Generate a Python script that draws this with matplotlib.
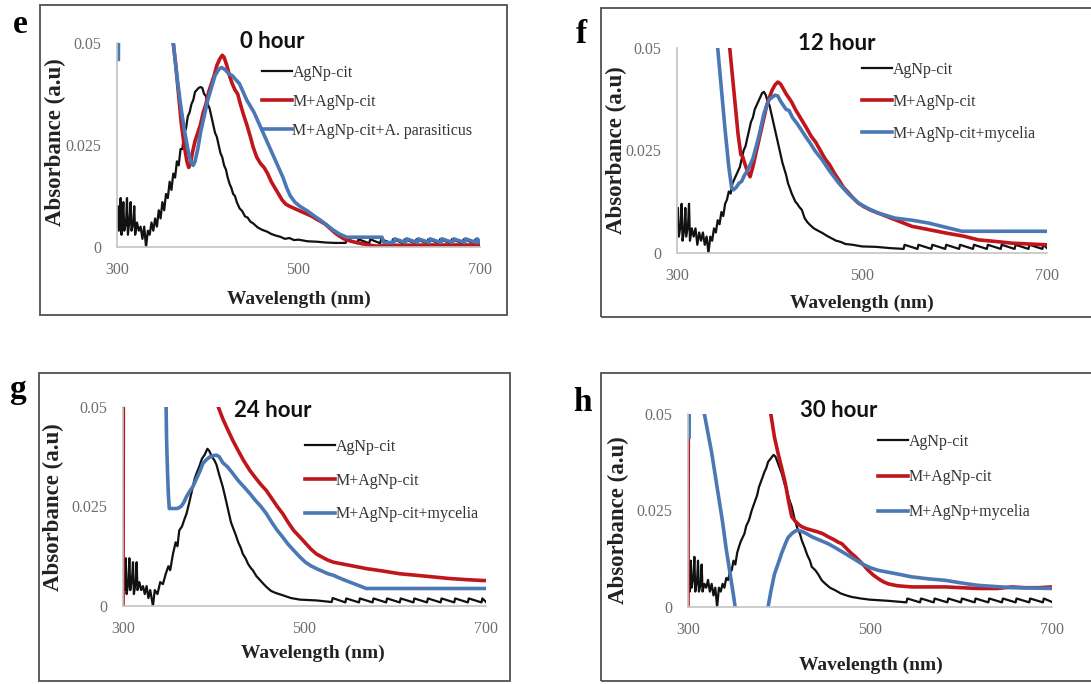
import matplotlib
matplotlib.use("Agg")
import matplotlib.pyplot as plt
from matplotlib.patches import Rectangle

# ---------------- data: UV-vis absorbance spectra ----------------
# panel e, 0 hour
e_cit_wl = [300, 301, 302, 303, 304, 305, 306, 307, 308, 310, 311, 312, 314, 315, 316, 318, 319, 320,
            322, 324, 326, 328, 330, 332, 334, 336, 338, 340, 342, 344, 346, 348, 350, 352, 354, 356,
            358, 360, 362, 364, 366, 368, 370, 372, 374, 376, 378, 380, 382, 384, 386, 388, 390, 392,
            394, 396, 398, 400, 402, 404, 406, 408, 410, 412, 414, 416, 418, 420, 422, 424, 426, 428,
            430, 432, 435, 438, 441, 444, 447, 450, 455, 460, 465, 470, 475, 480, 485, 490, 495, 500,
            510, 520, 530, 540, 552, 553, 565, 566, 578, 579, 590, 591, 603, 604, 616, 617, 629, 630,
            642, 643, 655, 656, 668, 669, 681, 682, 694, 695, 700]
e_cit_abs = [0.005, 0.010, 0.004, 0.006, 0.012, 0.003, 0.007, 0.011, 0.004, 0.006, 0.012, 0.003, 0.007,
             0.011, 0.004, 0.006, 0.010, 0.003, 0.006, 0.004, 0.005, 0.002, 0.005, 0.0, 0.004, 0.003,
             0.006, 0.004, 0.007, 0.005, 0.009, 0.007, 0.011, 0.009, 0.013, 0.012, 0.016, 0.014, 0.018,
             0.017, 0.021, 0.020, 0.024, 0.024, 0.028, 0.029, 0.032, 0.033, 0.035, 0.036, 0.038, 0.0385,
             0.039, 0.0392, 0.039, 0.0375, 0.037, 0.035, 0.034, 0.032, 0.030, 0.028, 0.027, 0.025, 0.023,
             0.022, 0.020, 0.019, 0.017, 0.0155, 0.0145, 0.013, 0.0125, 0.011, 0.0095, 0.0088, 0.0075,
             0.0072, 0.0062, 0.0058, 0.0048, 0.0042, 0.0038, 0.0032, 0.0028, 0.0025, 0.0020, 0.0022,
             0.0017, 0.0018, 0.0014, 0.0013, 0.0011, 0.0010, 0.0010, 0.0020, 0.0009, 0.0019, 0.0009,
             0.0019, 0.0009, 0.0019, 0.0009, 0.0019, 0.0009, 0.0019, 0.0009, 0.0019, 0.0009, 0.0019,
             0.0009, 0.0019, 0.0009, 0.0019, 0.0009, 0.0019, 0.0009, 0.0019, 0.0010]
e_m_wl = [355, 362, 365, 368, 371, 374, 377, 379, 381, 383, 386, 389, 392, 395, 398, 401, 404, 407, 410,
          413, 416, 418, 421, 424, 427, 430, 433, 436, 440, 443, 447, 450, 454, 458, 462, 466, 470, 474,
          478, 482, 486, 490, 495, 500, 505, 510, 515, 520, 525, 530, 535, 540, 545, 550, 555, 560, 570,
          580, 586, 600, 650, 700]
e_m_abs = [0.060, 0.050, 0.044, 0.037, 0.030, 0.025, 0.021, 0.0195, 0.0205, 0.023, 0.026, 0.028, 0.030,
           0.033, 0.035, 0.038, 0.040, 0.042, 0.0445, 0.046, 0.047, 0.0465, 0.0445, 0.042, 0.040, 0.0385,
           0.0375, 0.035, 0.032, 0.030, 0.027, 0.0245, 0.022, 0.0205, 0.0195, 0.018, 0.016, 0.0145, 0.013,
           0.0115, 0.0105, 0.0100, 0.0095, 0.0090, 0.0085, 0.0080, 0.0075, 0.0068, 0.0062, 0.0055, 0.0045,
           0.0035, 0.0027, 0.0020, 0.0016, 0.0013, 0.0008, 0.0004, 0.0002, 0.0004, 0.0005, 0.0005]
e_fun_wl = [301.5, 302.5, 340, 355, 362, 366, 370, 374, 378, 381, 384, 386, 389, 392, 396, 400, 404, 408,
            412, 415, 419, 423, 427, 431, 435, 439, 443, 447, 451, 455, 459, 463, 467, 471, 475, 479, 483,
            487, 491, 496, 502, 510, 518, 524, 530, 538, 545, 553, 592, 594, 605, 606, 618, 619, 631, 632,
            644, 645, 657, 658, 670, 671, 683, 684, 696, 697, 700]
e_fun_abs = [0.046, 0.080, 0.090, 0.065, 0.050, 0.042, 0.035, 0.029, 0.024, 0.021, 0.020, 0.021, 0.024,
             0.028, 0.032, 0.036, 0.039, 0.042, 0.0435, 0.044, 0.0435, 0.0425, 0.042, 0.041, 0.040, 0.038,
             0.036, 0.0345, 0.033, 0.031, 0.029, 0.027, 0.025, 0.023, 0.021, 0.019, 0.017, 0.0145, 0.0125,
             0.011, 0.0099, 0.0088, 0.0075, 0.0066, 0.0056, 0.0042, 0.0032, 0.0024, 0.0024, 0.0011, 0.0011,
             0.0020, 0.0011, 0.0020, 0.0011, 0.0020, 0.0011, 0.0020, 0.0011, 0.0020, 0.0011, 0.0020, 0.0011,
             0.0020, 0.0011, 0.0020, 0.0012]

# panel f, 12 hour
f_cit_wl = [300, 301, 302, 304, 305, 306, 308, 309, 310, 312, 313, 314, 316, 318, 320, 322, 324, 326, 328,
            330, 332, 334, 336, 338, 340, 342, 344, 346, 348, 350, 352, 354, 356, 358, 360, 362, 364, 366,
            368, 370, 372, 374, 376, 378, 380, 382, 384, 386, 388, 390, 392, 394, 396, 398, 400, 402, 404,
            406, 408, 410, 412, 414, 416, 418, 420, 422, 424, 426, 428, 430, 432, 435, 438, 441, 444, 448,
            452, 457, 462, 467, 472, 477, 482, 490, 500, 515, 530, 545, 546, 560, 561, 575, 576, 590, 591,
            605, 606, 620, 621, 635, 636, 650, 651, 665, 666, 680, 681, 695, 696, 700]
f_cit_abs = [0.006, 0.011, 0.004, 0.007, 0.012, 0.003, 0.006, 0.011, 0.004, 0.007, 0.012, 0.003, 0.006,
             0.004, 0.006, 0.002, 0.005, 0.003, 0.005, 0.002, 0.004, 0.0, 0.004, 0.003, 0.006, 0.005, 0.008,
             0.007, 0.010, 0.009, 0.012, 0.013, 0.015, 0.0145, 0.017, 0.018, 0.019, 0.020, 0.021, 0.023,
             0.025, 0.026, 0.028, 0.030, 0.032, 0.033, 0.035, 0.036, 0.037, 0.038, 0.039, 0.0393, 0.0385,
             0.037, 0.036, 0.034, 0.032, 0.030, 0.028, 0.026, 0.024, 0.022, 0.0205, 0.019, 0.017, 0.0158,
             0.0145, 0.0135, 0.0125, 0.012, 0.0113, 0.0105, 0.0085, 0.0075, 0.0068, 0.006, 0.0055, 0.0049,
             0.0042, 0.0036, 0.0030, 0.0027, 0.0022, 0.0020, 0.0016, 0.0015, 0.0012, 0.0010, 0.0020, 0.0010,
             0.0020, 0.0010, 0.0020, 0.0010, 0.0020, 0.0010, 0.0020, 0.0010, 0.0020, 0.0010, 0.0020, 0.0010,
             0.0020, 0.0010, 0.0020, 0.0010, 0.0020, 0.0010, 0.0020, 0.0012]
f_m_wl = [350, 357, 360, 363, 366, 369, 371, 373, 376, 379, 382, 385, 388, 391, 394, 397, 400, 403, 406,
          409, 412, 415, 418, 421, 424, 428, 432, 436, 440, 445, 450, 455, 460, 465, 470, 475, 480, 485,
          490, 496, 502, 510, 518, 527, 536, 545, 554, 570, 590, 610, 626, 645, 662, 680, 700]
f_m_abs = [0.065, 0.050, 0.043, 0.036, 0.029, 0.024, 0.0235, 0.022, 0.020, 0.0186, 0.021, 0.024, 0.027,
           0.030, 0.033, 0.036, 0.038, 0.0398, 0.041, 0.0417, 0.0412, 0.040, 0.0388, 0.0378, 0.0368, 0.035,
           0.0335, 0.032, 0.0305, 0.0285, 0.027, 0.025, 0.023, 0.0215, 0.0195, 0.0178, 0.016, 0.0148,
           0.0135, 0.0122, 0.0113, 0.0104, 0.0097, 0.0089, 0.0081, 0.0073, 0.0065, 0.0058, 0.0049, 0.0041,
           0.0032, 0.0028, 0.0024, 0.0022, 0.0020]
f_fun_wl = [340, 344, 348, 352, 356, 359, 361, 364, 367, 370, 373, 376, 379, 382, 385, 388, 391, 394, 397,
            400, 403, 406, 409, 412, 415, 418, 421, 425, 430, 435, 439, 444, 449, 457, 465, 475, 485, 496,
            507, 518, 527, 536, 554, 572, 590, 608, 650, 700]
f_fun_abs = [0.065, 0.050, 0.040, 0.030, 0.021, 0.016, 0.0154, 0.016, 0.017, 0.0175, 0.019, 0.020, 0.0215,
             0.023, 0.0255, 0.028, 0.031, 0.034, 0.036, 0.0375, 0.038, 0.0385, 0.0383, 0.037, 0.036, 0.035,
             0.0348, 0.033, 0.0315, 0.0298, 0.0284, 0.0268, 0.025, 0.0227, 0.020, 0.017, 0.0145, 0.0122,
             0.0108, 0.0097, 0.0091, 0.0085, 0.0080, 0.0073, 0.0063, 0.0053, 0.0053, 0.0053]

# panel g, 24 hour
g_cit_wl = [300, 301, 302, 303, 304, 306, 307, 308, 310, 311, 312, 314, 315, 316, 318, 320, 322, 324, 326,
            328, 330, 333, 335, 338, 341, 344, 347, 350, 352, 355, 358, 360, 362, 365, 368, 370, 373, 376,
            379, 381, 384, 387, 390, 393, 395, 398, 401, 403, 406, 410, 413, 416, 419, 421, 424, 427, 430,
            432, 435, 438, 441, 443, 447, 451, 455, 458, 463, 468, 476, 485, 495, 513, 530, 531, 545, 546,
            560, 561, 575, 576, 590, 591, 605, 606, 620, 621, 635, 636, 650, 651, 665, 666, 680, 681, 695,
            696, 700]
g_cit_abs = [0.005, 0.009, 0.004, 0.012, 0.003, 0.006, 0.012, 0.004, 0.007, 0.011, 0.003, 0.006, 0.011,
             0.004, 0.006, 0.004, 0.005, 0.003, 0.005, 0.002, 0.004, 0.0, 0.004, 0.003, 0.006, 0.0055, 0.008,
             0.010, 0.009, 0.013, 0.016, 0.015, 0.019, 0.020, 0.022, 0.0232, 0.026, 0.029, 0.032, 0.0333,
             0.035, 0.037, 0.038, 0.0395, 0.039, 0.0375, 0.0365, 0.0355, 0.033, 0.0299, 0.027, 0.024, 0.021,
             0.0198, 0.018, 0.016, 0.0145, 0.0131, 0.012, 0.0105, 0.0095, 0.009, 0.0075, 0.0065, 0.0055,
             0.0048, 0.0038, 0.0033, 0.0027, 0.0020, 0.0016, 0.0014, 0.0010, 0.0020, 0.0009, 0.0019, 0.0009,
             0.0019, 0.0009, 0.0019, 0.0009, 0.0019, 0.0009, 0.0019, 0.0009, 0.0019, 0.0009, 0.0019, 0.0009,
             0.0019, 0.0009, 0.0019, 0.0009, 0.0019, 0.0009, 0.0019, 0.0010]
g_m_wl = [300, 300.6, 360, 400, 405, 410, 415, 421, 427, 433, 440, 446, 452, 458, 464, 470, 476, 482, 488,
          495, 501, 507, 513, 520, 526, 532, 550, 568, 586, 605, 624, 642, 660, 680, 697, 700]
g_m_abs = [0.0, 0.080, 0.090, 0.058, 0.050, 0.047, 0.0445, 0.0416, 0.039, 0.0365, 0.034, 0.0322, 0.0305,
           0.029, 0.027, 0.025, 0.0232, 0.021, 0.019, 0.0173, 0.0158, 0.0143, 0.0131, 0.0122, 0.0115, 0.011,
           0.0102, 0.0094, 0.0088, 0.0081, 0.0077, 0.0073, 0.0069, 0.0066, 0.0064, 0.0064]
g_fun_wl = [345, 347.5, 348, 349, 350, 351, 355, 360, 364, 367, 370, 374, 377, 381, 385, 388, 392, 396,
            400, 403, 406, 410, 415, 421, 427, 433, 440, 446, 452, 458, 464, 470, 476, 482, 488, 495, 501,
            507, 513, 520, 526, 532, 541, 550, 559, 568, 600, 650, 700]
g_fun_abs = [0.080, 0.050, 0.042, 0.034, 0.028, 0.0245, 0.0245, 0.0245, 0.025, 0.026, 0.0275, 0.029,
             0.030, 0.032, 0.034, 0.0358, 0.0368, 0.0375, 0.0378, 0.0379, 0.0375, 0.036, 0.035, 0.0333,
             0.0315, 0.0300, 0.0282, 0.0265, 0.025, 0.0232, 0.021, 0.019, 0.0173, 0.0155, 0.014, 0.0123,
             0.011, 0.0101, 0.0094, 0.0087, 0.0081, 0.0077, 0.0068, 0.006, 0.0052, 0.0044, 0.0044, 0.0044,
             0.0044]

# panel h, 30 hour
h_cit_wl = [300, 301, 302, 303, 304, 306, 307, 308, 310, 311, 312, 314, 315, 316, 318, 320, 322, 324, 326,
            328, 330, 332, 334, 336, 338, 340, 342, 344, 346, 348, 350, 352, 354, 356, 358, 360, 362, 364,
            367, 370, 373, 376, 378, 381, 384, 386, 388, 391, 394, 396, 398, 400, 403, 406, 409, 411, 414,
            417, 420, 423, 425, 428, 431, 434, 436, 440, 443, 447, 451, 456, 462, 468, 474, 480, 490, 500,
            520, 540, 541, 555, 556, 570, 571, 585, 586, 600, 601, 615, 616, 630, 631, 645, 646, 660, 661,
            675, 676, 690, 691, 700]
h_cit_abs = [0.005, 0.009, 0.004, 0.012, 0.005, 0.008, 0.013, 0.004, 0.007, 0.012, 0.004, 0.006, 0.011,
             0.004, 0.006, 0.005, 0.007, 0.004, 0.006, 0.003, 0.005, 0.0, 0.005, 0.004, 0.006, 0.005, 0.0075,
             0.007, 0.009, 0.0095, 0.012, 0.011, 0.014, 0.0156, 0.017, 0.018, 0.019, 0.021, 0.0225, 0.025,
             0.027, 0.029, 0.0311, 0.033, 0.035, 0.036, 0.0376, 0.0385, 0.0394, 0.039, 0.0378, 0.0365,
             0.0346, 0.032, 0.030, 0.028, 0.026, 0.023, 0.0205, 0.019, 0.0173, 0.0155, 0.0135, 0.012, 0.0104,
             0.0095, 0.0085, 0.0069, 0.006, 0.005, 0.0043, 0.0035, 0.003, 0.0026, 0.0022, 0.0019, 0.0016,
             0.0012, 0.0022, 0.0012, 0.0022, 0.0012, 0.0022, 0.0012, 0.0022, 0.0012, 0.0022, 0.0012, 0.0022,
             0.0012, 0.0022, 0.0012, 0.0022, 0.0012, 0.0022, 0.0012, 0.0022, 0.0012, 0.0022, 0.0013]
h_m_wl = [300, 300.6, 380, 391, 395, 399, 403, 407, 410, 414, 418, 422, 425, 430, 436, 442, 448, 454, 460,
          465, 469, 474, 479, 484, 489, 494, 498, 504, 510, 515, 520, 530, 546, 565, 583, 600, 619, 640,
          656, 670, 685, 700]
h_m_abs = [0.0, 0.090, 0.090, 0.050, 0.044, 0.0398, 0.036, 0.032, 0.028, 0.0234, 0.0222, 0.0213, 0.0208,
           0.0203, 0.0199, 0.0195, 0.019, 0.0182, 0.0175, 0.0168, 0.0164, 0.0152, 0.014, 0.013, 0.0118,
           0.0106, 0.0095, 0.0082, 0.0072, 0.0065, 0.006, 0.0055, 0.0052, 0.0052, 0.0052, 0.005, 0.0048,
           0.0048, 0.0052, 0.005, 0.005, 0.0052]
h_fun_wl = [301.2, 302, 316, 318, 322, 326, 330, 334, 338, 342, 346, 350, 353, 360, 380, 388, 391, 395,
            399, 403, 407, 410, 414, 418, 421, 426, 431, 436, 445, 454, 463, 473, 482, 491, 500, 509, 527,
            546, 564, 583, 601, 619, 638, 656, 680, 700]
h_fun_abs = [0.044, 0.090, 0.070, 0.050, 0.045, 0.040, 0.034, 0.028, 0.022, 0.015, 0.009, 0.003, -0.002,
             -0.012, -0.010, 0.0, 0.004, 0.0085, 0.0112, 0.014, 0.0164, 0.018, 0.019, 0.0197, 0.0199,
             0.0195, 0.0189, 0.0182, 0.0173, 0.0164, 0.0152, 0.0138, 0.0125, 0.0112, 0.0102, 0.0095, 0.0087,
             0.0078, 0.0073, 0.0069, 0.0062, 0.0056, 0.0053, 0.005, 0.0049, 0.0048]

panel_letters = ["e", "f", "g", "h"]
panel_titles = ["0 hour", "12 hour", "24 hour", "30 hour"]
legend_labels = [
    ["AgNp-cit", "M+AgNp-cit", "M+AgNp-cit+A. parasiticus"],
    ["AgNp-cit", "M+AgNp-cit", "M+AgNp-cit+mycelia"],
    ["AgNp-cit", "M+AgNp-cit", "M+AgNp-cit+mycelia"],
    ["AgNp-cit", "M+AgNp-cit", "M+AgNp+mycelia"],
]
x_ticks = [300, 500, 700]
y_ticks = [0, 0.025, 0.05]
y_tick_labels = ["0", "0.025", "0.05"]
x_label = "Wavelength (nm)"
y_label = "Absorbance (a.u)"

spectra = [
    [(e_cit_wl, e_cit_abs), (e_m_wl, e_m_abs), (e_fun_wl, e_fun_abs)],
    [(f_cit_wl, f_cit_abs), (f_m_wl, f_m_abs), (f_fun_wl, f_fun_abs)],
    [(g_cit_wl, g_cit_abs), (g_m_wl, g_m_abs), (g_fun_wl, g_fun_abs)],
    [(h_cit_wl, h_cit_abs), (h_m_wl, h_m_abs), (h_fun_wl, h_fun_abs)],
]

# ---------------- styling and layout (pixel units) ----------------
W, H = 1091, 684
SERIF = "Liberation Serif"
series_style = [
    dict(color="#111111", lw=1.6),
    dict(color="#C0161B", lw=2.6),
    dict(color="#4A78B5", lw=2.6),
]
layout = [
    # frame (l, t, r, b), axes (l, t, r, b), letter (x, baseline), title (cx, cy),
    # legend (x, top), legend spacing, xlabel (cx, cy), ylabel (cx, cy)
    dict(frame=(40, 5, 507, 315), ax=(117, 43, 480, 247), letter=(20, 33), title=(272, 41),
         leg=(262, 65), sp=0.8, xl=(299, 299), yl=(55, 142)),
    dict(frame=(601, 8, 1100, 317), ax=(677, 48, 1047, 253), letter=(581, 43), title=(837, 43),
         leg=(862, 62), sp=1.0, xl=(862, 303), yl=(616, 150)),
    dict(frame=(39, 373, 510, 681), ax=(123, 407, 486, 606), letter=(18, 398), title=(273, 410),
         leg=(305, 439), sp=1.1, xl=(313, 653), yl=(53, 507)),
    dict(frame=(601, 373, 1100, 681), ax=(688, 414, 1052, 607), letter=(582, 411), title=(839, 410),
         leg=(878, 434), sp=1.2, xl=(871, 665), yl=(618, 520)),
]


def fx(x):
    return x / W


def fy(y):
    return 1 - y / H


fig = plt.figure(figsize=(W / 100, H / 100), dpi=100)
fig.patch.set_facecolor("white")

for i in range(4):
    L = layout[i]
    fl, ft, fr, fb = L["frame"]
    fig.patches.append(Rectangle((fx(fl), fy(fb)), fx(fr - fl), (fb - ft) / H,
                                 transform=fig.transFigure, fill=False,
                                 edgecolor="#505050", lw=1.3))

    al, at, ar, ab = L["ax"]
    ax = fig.add_axes([fx(al), fy(ab), fx(ar - al), (ab - at) / H])
    for (wl, ab_vals), st in zip(spectra[i], series_style):
        ax.plot(wl, ab_vals, color=st["color"], lw=st["lw"], solid_joinstyle="round")
    ax.set_xlim(300, 700)
    ax.set_ylim(0, 0.05)
    ax.set_xticks(x_ticks)
    ax.set_yticks(y_ticks)
    ax.set_yticklabels(y_tick_labels)
    for s in ("top", "right"):
        ax.spines[s].set_visible(False)
    for s in ("left", "bottom"):
        ax.spines[s].set_color("#c4c4c4")
        ax.spines[s].set_linewidth(1.2)
    ax.tick_params(length=0, pad=11, labelsize=11.5, labelcolor="#6e6e6e")
    for lab in ax.get_xticklabels() + ax.get_yticklabels():
        lab.set_fontfamily(SERIF)
    ax.patch.set_alpha(0)

    lx, ly = L["leg"]
    ax.legend(legend_labels[i], loc="upper left", bbox_to_anchor=(fx(lx), fy(ly)),
              bbox_transform=fig.transFigure, frameon=False, borderpad=0, borderaxespad=0,
              handlelength=1.9, handletextpad=0.0, labelspacing=L["sp"],
              prop=dict(family=SERIF, size=11.5), labelcolor="#333333")

    x0, y0 = L["letter"]
    fig.text(fx(x0), fy(y0), panel_letters[i], ha="center", va="baseline",
             family=SERIF, weight="bold", size=24)
    tx, ty = L["title"]
    fig.text(fx(tx), fy(ty), panel_titles[i], ha="center", va="center",
             family="Lato", weight="bold", size=16, color="#111111")
    xx, xy = L["xl"]
    fig.text(fx(xx), fy(xy), x_label, ha="center", va="center",
             family=SERIF, weight="bold", size=14, color="#222222")
    yx, yy = L["yl"]
    fig.text(fx(yx), fy(yy), y_label, ha="center", va="center", rotation=90,
             family=SERIF, weight="bold", size=16.5, color="#222222")

fig.savefig("out.png", dpi=100)
